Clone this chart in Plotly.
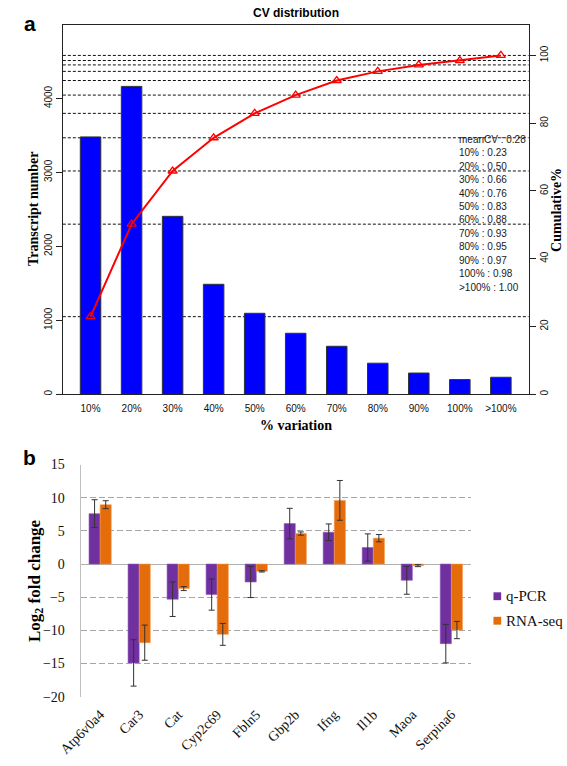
import plotly.graph_objects as go

# ---------------- Panel a data ----------------
cv_bins = ["10%", "20%", "30%", "40%", "50%", "60%", "70%", "80%", "90%", "100%", ">100%"]
transcript_counts = [3480, 4163, 2406, 1487, 1095, 825, 649, 420, 287, 199, 230]
cumulative_pct = [22.9, 50.2, 65.9, 75.7, 82.9, 88.3, 92.6, 95.3, 97.2, 98.5, 100.0]
mean_cv = 0.28
cum_fraction_labels = ["0.23", "0.50", "0.66", "0.76", "0.83", "0.88", "0.93", "0.95", "0.97", "0.98", "1.00"]
left_ticks = [0, 1000, 2000, 3000, 4000]
right_ticks = [0, 20, 40, 60, 80, 100]

# ---------------- Panel b data ----------------
genes = ["Atp6v0a4", "Car3", "Cat", "Cyp2c69", "Fbln5", "Gbp2b", "Ifng", "Il1b", "Maoa", "Serpina6"]
series_names = ["q-PCR", "RNA-seq"]
qpcr = [7.6, -14.9, -5.3, -4.6, -2.7, 6.1, 4.8, 2.5, -2.45, -12.0]
qpcr_err = [2.1, 3.5, 2.6, 2.35, 2.35, 2.3, 1.25, 2.05, 2.1, 2.9]
rnaseq = [8.95, -11.85, -3.7, -10.6, -1.1, 4.6, 9.6, 3.9, -0.24, -9.95]
rnaseq_err = [0.6, 2.65, 0.3, 1.65, 0.1, 0.25, 3.0, 0.55, 0.15, 1.3]
b_ticks = [15, 10, 5, 0, -5, -10, -15, -20]

W, H = 567, 766
def px(x):
    return x / W
def py(y):
    return 1 - y / H

SANS = "Liberation Sans, Arial, sans-serif"
SERIF = "Liberation Serif, Times New Roman, serif"
PURPLE = "#7030A0"
ORANGE = "#E46C0A"

xi = list(range(len(cv_bins)))

fig = go.Figure()

# Panel a bars
fig.add_trace(go.Bar(
    x=xi, y=transcript_counts, width=0.5,
    marker=dict(color="#0000FF", line=dict(color="#333333", width=1)),
    xaxis="x", yaxis="y", showlegend=False,
))
# Panel a cumulative line
fig.add_trace(go.Scatter(
    x=xi, y=cumulative_pct, mode="lines+markers",
    line=dict(color="#FF0000", width=2),
    marker=dict(symbol="triangle-up-open", size=8, color="#FF0000", line=dict(width=1.3, color="#FF0000")),
    xaxis="x", yaxis="y3", showlegend=False,
))

# Panel b bars
fig.add_trace(go.Bar(
    x=genes, y=qpcr, name=series_names[0],
    marker=dict(color=PURPLE, line=dict(color="#8E5BB8", width=0.6)),
    error_y=dict(type="data", array=qpcr_err, visible=True, color="#333333", thickness=1, width=3),
    xaxis="x2", yaxis="y2", showlegend=False,
))
fig.add_trace(go.Bar(
    x=genes, y=rnaseq, name=series_names[1],
    marker=dict(color=ORANGE, line=dict(color="#F59A4F", width=0.6)),
    error_y=dict(type="data", array=rnaseq_err, visible=True, color="#333333", thickness=1, width=3),
    xaxis="x2", yaxis="y2", showlegend=False,
))

# Dashed reference lines at cumulative values (behind bars)
shapes = []
for v in cumulative_pct:
    shapes.append(dict(type="line", xref="paper", yref="y3",
                       x0=px(42.5), x1=px(527), y0=v, y1=v,
                       line=dict(color="#111111", width=1, dash="3px,2px"), layer="below"))

annotations = []
# legend-like text in panel a
lines = ["meanCV : %.2f" % mean_cv] + ["%s : %s" % (b, f) for b, f in zip(cv_bins, cum_fraction_labels)]
for i, t in enumerate(lines):
    annotations.append(dict(text=t, xref="paper", yref="paper", x=px(453), y=py(135 + 13.7 * i),
                            xanchor="left", yanchor="middle", showarrow=False,
                            font=dict(family=SANS, size=10, color="#1a1a1a")))

# legend for panel b (square swatches + labels)
for i, (name, col) in enumerate(zip(series_names, [PURPLE, ORANGE])):
    yc = 601 + 25 * i
    shapes.append(dict(type="rect", xref="paper", yref="paper",
                       x0=px(490.5), x1=px(498.5), y0=py(yc + 4), y1=py(yc - 4),
                       fillcolor=col, line=dict(width=0)))
    annotations.append(dict(text=name, xref="paper", yref="paper", x=px(501), y=py(yc),
                            xanchor="left", yanchor="middle", showarrow=False,
                            font=dict(family=SERIF, size=15, color="#111")))

def ann(text, x, y, size, family, angle=0, bold=True, color="#000"):
    annotations.append(dict(text=("<b>%s</b>" % text) if bold else text, xref="paper", yref="paper",
                            x=px(x), y=py(y), xanchor="center", yanchor="middle", showarrow=False,
                            textangle=angle, font=dict(family=family, size=size, color=color)))

ann("CV distribution", 285, 6, 12, SANS)
ann("a", 8, 17, 21, SANS)
ann("b", 8, 459, 21, SANS)
ann("Transcript number", 12, 206.5, 14, SERIF, angle=-90)
ann("Cumulative%", 556, 206.5, 14, SERIF, angle=-90)
ann("% variation", 285, 427, 14, SERIF)
ann("Log<sub>2</sub> fold change", 14, 585, 17, SERIF, angle=-90)

fig.update_layout(
    width=W, height=H, autosize=False,
    margin=dict(l=0, r=0, t=0, b=0),
    paper_bgcolor="white", plot_bgcolor="rgba(0,0,0,0)",
    barmode="group", bargap=0.43, bargroupgap=0,
    showlegend=False,
    shapes=shapes, annotations=annotations,
    xaxis=dict(domain=[px(42.5), px(527)], range=[-0.675, 10.675],
               tickvals=xi, ticktext=cv_bins, ticks="", showgrid=False, zeroline=False,
               showline=True, linecolor="#222", linewidth=1, mirror=True,
               tickfont=dict(family=SANS, size=10, color="#111"), ticklabelstandoff=5,
               anchor="y"),
    yaxis=dict(domain=[py(395), py(18.3)], range=[0, 4994], tickvals=left_ticks,
               ticks="outside", ticklen=6, tickcolor="#222", tickangle=-90,
               showgrid=False, zeroline=False, showline=True, linecolor="#222", linewidth=1,
               tickfont=dict(family=SANS, size=10, color="#111"), anchor="x"),
    yaxis3=dict(overlaying="y", side="right", range=[0, 109], tickvals=right_ticks,
                ticks="outside", ticklen=6, tickcolor="#222", tickangle=-90,
                showgrid=False, zeroline=False, showline=True, linecolor="#222", linewidth=1,
                tickfont=dict(family=SANS, size=10, color="#111"), anchor="x"),
    xaxis2=dict(domain=[px(61), px(467)], range=[-0.5, len(genes) - 0.5], type="category",
                ticks="", showgrid=False, zeroline=False, showline=False, tickangle=-45,
                tickfont=dict(family=SERIF, size=14, color="#111"), ticklabelstandoff=6,
                anchor="y2"),
    yaxis2=dict(domain=[py(703.5), py(466.7)], range=[-20, 15], tickvals=b_ticks,
                ticks="", showgrid=True, gridcolor="#a6a6a6", griddash="6px,3px", gridwidth=1,
                zeroline=True, zerolinecolor="#b0b0b0", zerolinewidth=1,
                showline=True, linecolor="#bfbfbf", linewidth=1,
                tickfont=dict(family=SERIF, size=14, color="#111"), ticklabelstandoff=12,
                anchor="x2"),
)

fig.write_html("out.html", config={"displayModeBar": False},
               post_script="document.body.style.margin='0px';document.body.style.overflow='hidden';")
